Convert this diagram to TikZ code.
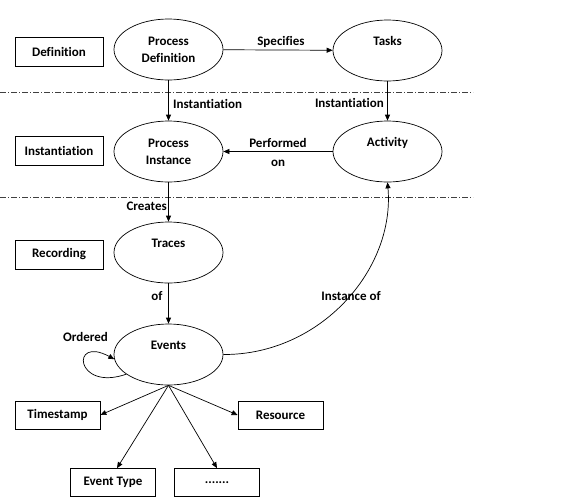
\documentclass[tikz,border=0pt]{standalone}
\usepackage{fontspec}
\setmainfont{Carlito}[Ligatures={NoCommon}]
\usetikzlibrary{shapes.geometric,arrows.meta}
\begin{document}
\begin{tikzpicture}[x=1pt,y=-1pt,
  font=\fontsize{13}{15}\selectfont\bfseries,
  ov/.style={draw, ellipse, minimum width=109pt, minimum height=61pt, inner sep=0pt, align=center, line width=0.7pt},
  bx/.style={draw, rectangle, minimum width=88pt, minimum height=29pt, inner sep=0pt, line width=0.7pt},
  sbx/.style={draw, rectangle, minimum width=85pt, minimum height=28pt, inner sep=0pt, line width=0.7pt},
  arr/.style={-{Triangle[length=6pt,width=5pt]}, line width=0.7pt},
  lbl/.style={inner sep=0pt},
  sep/.style={line width=0.6pt, black!75, dash pattern=on 6pt off 2pt on 1pt off 2pt}]
\useasboundingbox (0,0) rectangle (561,501);
% layer boxes
\node[bx] (bdef) at (59,51.5) {Definition};
\node[bx] (binst) at (59,150.5) {Instantiation};
\node[bx] (brec) at (59,254.5) {Recording};
% ellipses
\node[ov] (pd) at (168.5,49.5) {Process\\[2pt]Definition};
\node[ov] (tk) at (387.5,50.5) {Tasks\\[4pt]\mbox{}};
\node[ov] (pi) at (168.5,151.5) {Process\\[2pt]Instance};
\node[ov] (ac) at (387.5,151.5) {Activity\\[4pt]\mbox{}};
\node[ov] (tr) at (168.5,252.5) {Traces\\[4pt]\mbox{}};
\node[ov] (ev) at (168.5,354.5) {Events\\[4pt]\mbox{}};
% attribute boxes
\node[sbx] (ts) at (57.5,415) {Timestamp};
\node[sbx] (rs) at (280.5,415) {Resource};
\node[sbx] (et) at (113,482.5) {Event Type};
\node[sbx] (dt) at (217,482.5) {.......};
% separators
\coordinate (s1a) at (0,92);
\coordinate (s1b) at (473,92);
\coordinate (s2a) at (0,197);
\coordinate (s2b) at (473,197);
\draw[sep] (s1a) -- (s1b);
\draw[sep] (s2a) -- (s2b);
% connectors
\draw[arr] (pd) -- (tk);
\node[lbl] (lspec) at (281,42) {Specifies};
\draw[arr] (pd) -- (pi);
\node[lbl, anchor=west] (linst1) at (173,104) {Instantiation};
\draw[arr] (tk) -- (ac);
\node[lbl, anchor=east] (linst2) at (384,103) {Instantiation};
\draw[arr] (ac) -- (pi);
\node[lbl, align=center] (lperf) at (278,152.5) {Performed\\[4pt]on};
\draw[arr] (pi) -- (tr);
\node[lbl, anchor=east] (lcre) at (167,206) {Creates};
\draw[arr] (tr) -- (ev);
\node[lbl] (lof) at (157,296) {of};
\draw[arr] (ev.east) .. controls (320,355) and (395,270) .. (ac.south);
\node[lbl] (linstof) at (351,296) {Instance of};
\draw[arr] (ev.205) .. controls (75,392) and (70,335) .. (ev.185);
\node[lbl] (lord) at (85.5,337) {Ordered};
\draw[arr] (ev.south) -- (ts.east);
\draw[arr] (ev.south) -- (rs.west);
\draw[arr] (ev.south) -- ([xshift=4pt]et.north);
\draw[arr] (ev.south) -- (dt.north);
\end{tikzpicture}
\end{document}
